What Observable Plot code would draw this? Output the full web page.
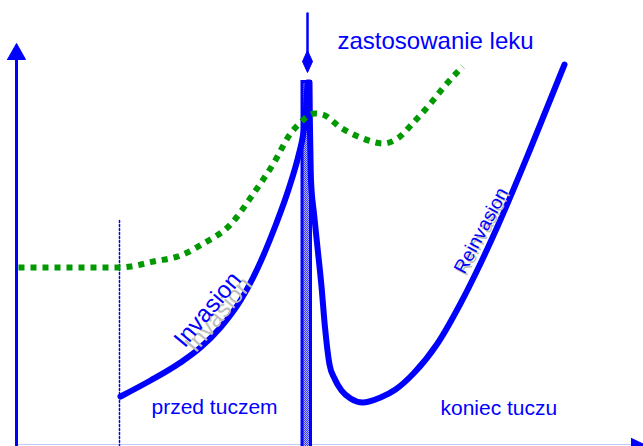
<!DOCTYPE html>
<html>
<head>
<meta charset="utf-8">
<script src="https://cdn.jsdelivr.net/npm/d3@7"></script>
<script src="https://cdn.jsdelivr.net/npm/@observablehq/plot@0.6"></script>
<style>
  html, body { margin: 0; padding: 0; background: #fff; }
  svg { display: block; }
</style>
</head>
<body>
<div id="chart"></div>
<script>
// Schematic chart: x = time (arbitrary units), y = level (arbitrary units, up)
const invasionCurve = [
  [120, 50], [150, 66], [180, 84], [200, 99], [220, 119], [240, 146],
  [257, 178], [275, 221], [288, 257], [298, 291], [303, 314], [305, 330],
  [306, 346], [307, 364]
];
const reinvasionCurve = [
  [309, 364], [309.3, 330], [309.8, 300], [310.5, 266], [313.6, 232], [317, 199],
  [321, 160], [324.5, 119], [329, 82], [334, 68], [341, 56], [350, 48],
  [362, 44], [380, 49], [395, 57], [413, 73], [437, 103], [460, 143],
  [480, 183], [497, 220], [530, 298], [564, 382]
];
const greenCurve = [
  [18, 179], [120, 179], [130, 180], [153, 185], [180, 191], [203, 203],
  [230, 222], [253, 253], [273, 283], [290, 313], [300, 324], [308, 331],
  [314, 333], [322, 332], [340, 319], [360, 309], [383, 303], [397, 308],
  [413, 324], [430, 343], [443, 359], [462, 380]
];
const drugBar = [{x1: 302, x2: 310.5, y1: -6, y2: 364.5}];
const drugStem = [[307, 433], [307, 392]];
const drugDiamond = [[307, 396], [312, 385], [307, 374], [302, 385], [307, 396]];
const yAxisLine = [[16, -2], [16, 388]];
const yAxisHead = [[7, 387], [25, 387], [16, 403], [7, 387]];
const xAxisLevel = [2];
const xAxisHead = [[631, 8], [631, -10], [649, -0.5], [631, 8]];
const startFatteningX = [[119, 0], [119, 226]];

const plainLabels = [
  {text: "zastosowanie leku", x: 337, y: 398, size: 24},
  {text: "przed tuczem", x: 151, y: 33, size: 21},
  {text: "koniec tuczu", x: 440, y: 32, size: 21}
];
const curveLabels = [
  {text: "Invasion", x: 213, y: 132, angle: -50, size: 24, shadowDx: 11, shadowDy: -5},
  {text: "Reinvasion", x: 486, y: 213, angle: -62, size: 19, shadowDx: 2, shadowDy: -2}
];

const BLUE = "#0000ff";
const GREEN = "#009900";
const FONT = "'Liberation Sans', Arial, sans-serif";

const chart = Plot.plot({
  width: 643,
  height: 446,
  margin: 0,
  x: {domain: [0, 643], axis: null},
  y: {domain: [0, 446], axis: null},
  style: {background: "#fff", fontFamily: FONT, overflow: "hidden"},
  marks: [
    // x axis
    Plot.ruleY(xAxisLevel, {x1: 16, x2: 643, stroke: "#c8c8ff", strokeWidth: 1.2}),
    Plot.line(xAxisHead, {fill: BLUE, stroke: BLUE, strokeWidth: 1}),
    // y axis
    Plot.line(yAxisLine, {stroke: BLUE, strokeWidth: 3}),
    Plot.line(yAxisHead, {fill: BLUE, stroke: BLUE, strokeWidth: 1}),
    // dotted marker
    Plot.line(startFatteningX, {stroke: BLUE, strokeWidth: 1.5, strokeDasharray: "2,2"}),
    // drug bar
    Plot.rect(drugBar, {x1: "x1", x2: "x2", y1: "y1", y2: "y2", fill: "url(#chk)", stroke: BLUE, strokeWidth: 3}),
    Plot.line(drugStem, {stroke: BLUE, strokeWidth: 2.5}),
    Plot.line(drugDiamond, {fill: BLUE, stroke: BLUE, strokeWidth: 1}),
    // curves
    Plot.line(invasionCurve, {curve: "monotone-x", stroke: BLUE, strokeWidth: 6}),
    Plot.line(reinvasionCurve, {curve: "monotone-x", stroke: BLUE, strokeWidth: 6}),
    Plot.line(greenCurve, {curve: "monotone-x", stroke: GREEN, strokeWidth: 6, strokeDasharray: "6,6", strokeLinecap: "butt"}),
    // labels
    Plot.text(plainLabels, {x: "x", y: "y", text: "text", fontSize: d => d.size, textAnchor: "start", lineAnchor: "bottom", fill: BLUE}),
    Plot.text(curveLabels, {x: d => d.x + d.shadowDx, y: d => d.y + d.shadowDy, text: "text", rotate: d => d.angle, fontSize: d => d.size, textAnchor: "middle", lineAnchor: "bottom", fill: "#bdbdbd"}),
    Plot.text(curveLabels, {x: "x", y: "y", text: "text", rotate: d => d.angle, fontSize: d => d.size, textAnchor: "middle", lineAnchor: "bottom", fill: BLUE})
  ]
});

// checkered pattern for the drug bar
const defs = d3.select(chart).insert("defs", ":first-child");
const pat = defs.append("pattern").attr("id", "chk").attr("patternUnits", "userSpaceOnUse").attr("width", 2).attr("height", 2);
pat.append("rect").attr("width", 2).attr("height", 2).attr("fill", "#b4b4ff");
pat.append("rect").attr("width", 1).attr("height", 1).attr("fill", "#3c3cff");
pat.append("rect").attr("x", 1).attr("y", 1).attr("width", 1).attr("height", 1).attr("fill", "#3c3cff");

document.getElementById("chart").appendChild(chart);
</script>
</body>
</html>
